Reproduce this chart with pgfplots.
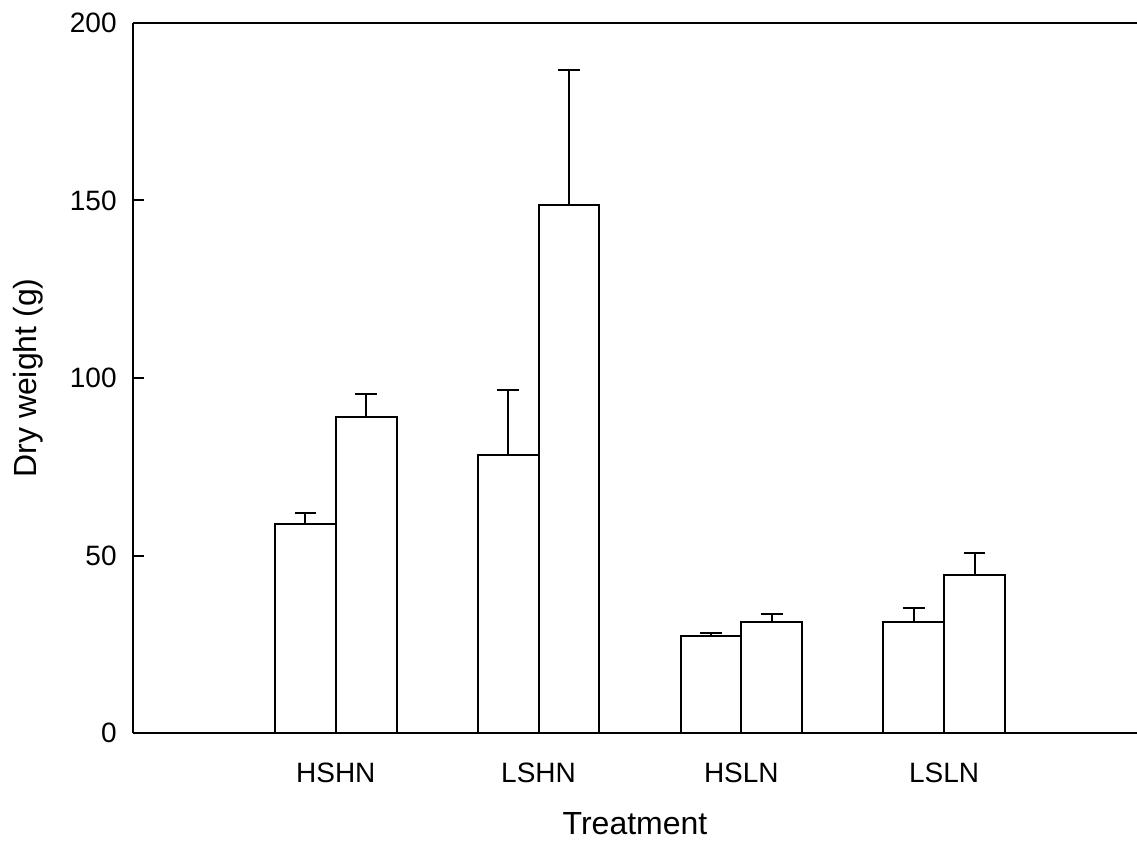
\documentclass[border=0pt]{standalone}
\usepackage{fontspec}
\setmainfont{Liberation Sans}
\usepackage{pgfplots}
\pgfplotsset{compat=1.18}
\begin{document}
\begin{tikzpicture}
\begin{axis}[
  width=502pt, height=355pt, scale only axis,
  xmin=0, xmax=4.951, ymin=0, ymax=200,
  axis x line=box, axis y line=left,
  axis line style={-, line width=1pt, black},
  xtick={1,2,3,4}, xticklabels={HSHN,LSHN,HSLN,LSLN},
  ytick={0,50,100,150,200},
  tick align=inside,
  major tick length=5.5pt,
  x tick style={draw=none},
  y tick style={line width=1pt, black},
  /pgf/number format/assume math mode=true,
  ticklabel style={font=\fontsize{14}{16}\selectfont},
  yticklabel style={inner sep=0pt, xshift=-8pt},
  xticklabel style={inner sep=0pt, anchor=north, yshift=-9.5pt},
  every axis x label/.style={at={(axis description cs:0.5,0)}, anchor=north, yshift=-39.3pt, inner sep=0pt, font=\fontsize{16}{18}\selectfont},
  every axis y label/.style={at={(axis description cs:0,0.5)}, anchor=base, rotate=90, yshift=48pt, inner sep=0pt, font=\fontsize{16}{18}\selectfont},
  xlabel={Treatment}, ylabel={Dry weight (g)},
  ybar, bar width=0.3,
  clip=false,
]
\addplot[draw=black, fill=white, line width=1pt, bar shift=-0.15,
  error bars/.cd, y dir=plus, y explicit,
  error bar style={line width=1pt, black},
  error mark options={mark size=5.4pt, line width=1pt, black, rotate=90}]
  coordinates {(1,58.9) +- (0,3.2) (2,78.3) +- (0,18.4) (3,27.2) +- (0,1.0) (4,31.3) +- (0,3.9)};
\addplot[draw=black, fill=white, line width=1pt, bar shift=0.15,
  error bars/.cd, y dir=plus, y explicit,
  error bar style={line width=1pt, black},
  error mark options={mark size=5.4pt, line width=1pt, black, rotate=90}]
  coordinates {(1,88.9) +- (0,6.7) (2,148.8) +- (0,38.0) (3,31.3) +- (0,2.2) (4,44.6) +- (0,6.1)};
\coordinate (sw) at (rel axis cs:0,0);
\coordinate (ne) at (rel axis cs:1,1);
\end{axis}
\pgfresetboundingbox
\path[use as bounding box] ([xshift=-66.5pt,yshift=-53.5pt]sw) rectangle ([yshift=11.5pt]ne);
\end{tikzpicture}
\end{document}
